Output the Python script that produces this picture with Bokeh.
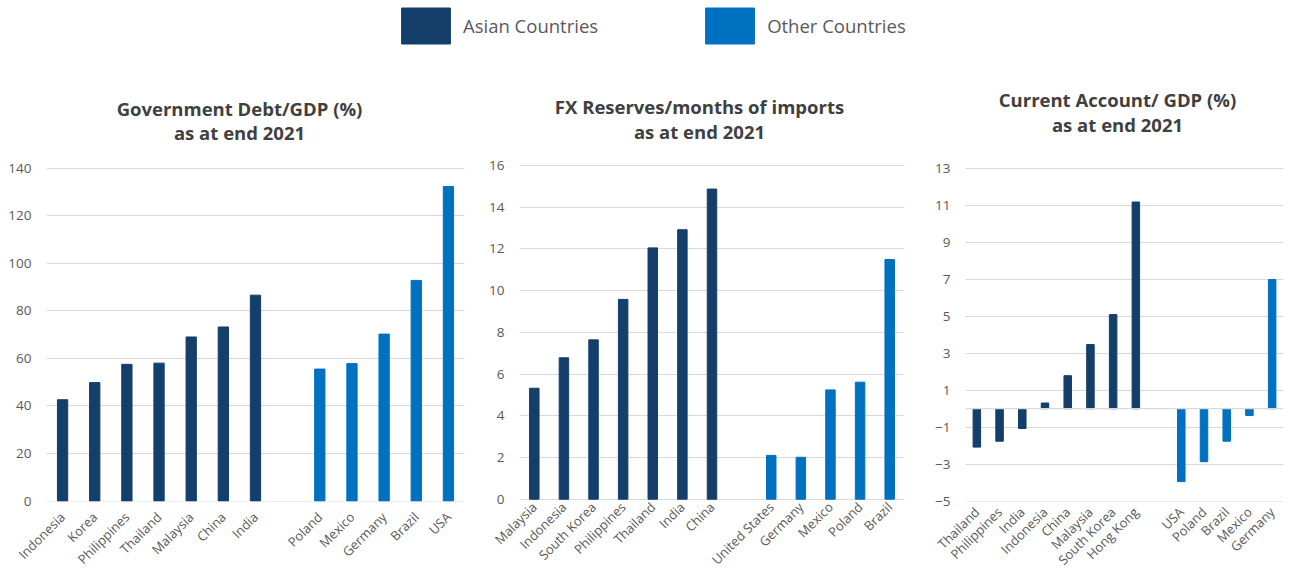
import math
from bokeh.plotting import figure
from bokeh.models import FactorRange, Range1d, FixedTicker, Label, Span
from bokeh.layouts import column, row
from bokeh.embed import file_html
from bokeh.resources import INLINE

# ---------------- data ----------------
debt_asia = ["Indonesia", "Korea", "Philippines", "Thailand", "Malaysia", "China", "India"]
debt_asia_vals = [42.6, 49.8, 57.5, 58.0, 69.0, 73.2, 86.6]
debt_other = ["Poland", "Mexico", "Germany", "Brazil", "USA"]
debt_other_vals = [55.5, 57.8, 70.2, 92.8, 132.3]
debt_ticks = [0, 20, 40, 60, 80, 100, 120, 140]

fx_asia = ["Malaysia", "Indonesia", "South Korea", "Philippines", "Thailand", "India", "China"]
fx_asia_vals = [5.32, 6.78, 7.64, 9.58, 12.05, 12.92, 14.87]
fx_other = ["United States", "Germany", "Mexico", "Poland", "Brazil"]
fx_other_vals = [2.10, 2.01, 5.24, 5.61, 11.49]
fx_ticks = [0, 2, 4, 6, 8, 10, 12, 14, 16]

ca_asia = ["Thailand", "Philippines", "India", "Indonesia", "China", "Malaysia", "South Korea", "Hong Kong"]
ca_asia_vals = [-2.08, -1.76, -1.07, 0.31, 1.79, 3.48, 5.10, 11.2]
ca_other = ["USA", "Poland", "Brazil", "Mexico", "Germany"]
ca_other_vals = [-3.95, -2.87, -1.76, -0.37, 7.0]
ca_ticks = [-5, -3, -1, 1, 3, 5, 7, 9, 11, 13]

titles = [
    "Government Debt/GDP (%)\nas at end 2021",
    "FX Reserves/months of imports\nas at end 2021",
    "Current Account/ GDP (%)\nas at end 2021",
]
legend_labels = ["Asian Countries", "Other Countries"]

# ---------------- style ----------------
DARK = "#143F6B"
LIGHT = "#0070C0"
GRID = "#D9D9D9"
TXT = "#595959"
TTL = "#404040"
FONT = "Open Sans"

LEG_H = 50
FIG_H = 577 - LEG_H
FRAME_TOP = LEG_H
BORDER_BOTTOM = 76                       # shared by all three charts (row aligns frames)
FB = LEG_H + FIG_H - BORDER_BOTTOM       # page y of the frames' bottom edge


def make_chart(title, asia, asia_vals, other, other_vals, ticks, px_lo, px_hi,
               width, bl, br, title_cx, title_cy, bar_w, standoff, zero_line=False):
    px_lo = min(px_lo, FB - 0.5)
    k = (px_lo - px_hi) / (ticks[-1] - ticks[0])
    y0 = ticks[0] - (FB - px_lo) / k
    y1 = ticks[-1] + (px_hi - FRAME_TOP) / k

    factors = asia + [" "] + other
    p = figure(x_range=FactorRange(factors=factors, range_padding=0),
               y_range=Range1d(y0, y1), width=width, height=FIG_H,
               output_backend="svg", toolbar_location=None,
               x_axis_location="below", y_axis_location="left",
               min_border_left=bl, min_border_right=br,
               min_border_top=0, min_border_bottom=BORDER_BOTTOM,
               outline_line_color=None, background_fill_color=None,
               border_fill_color=None)
    ya = p.yaxis[0]
    ya.ticker = FixedTicker(ticks=ticks)
    ya.major_label_text_font_size = "13.5px"
    ya.major_label_standoff = 15
    xa = p.xaxis[0]
    xa.major_label_orientation = math.pi / 4
    xa.major_label_text_font_size = "13px"
    xa.major_label_standoff = standoff
    for ax in (xa, ya):
        ax.axis_line_color = None
        ax.major_tick_line_color = None
        ax.minor_tick_line_color = None
        ax.major_tick_out = 0
        ax.major_tick_in = 0
        ax.minor_tick_out = 0
        ax.minor_tick_in = 0
        ax.major_label_text_color = TXT
        ax.major_label_text_font = FONT
    p.xgrid.visible = False
    p.ygrid.grid_line_color = GRID
    p.ygrid.grid_line_width = 1.2

    if zero_line:
        p.add_layout(Span(location=0, dimension="width", line_color=GRID, line_width=1.2))

    p.vbar(x=asia, top=asia_vals, bottom=0, width=bar_w, color=DARK)
    p.vbar(x=other, top=other_vals, bottom=0, width=bar_w, color=LIGHT)

    p.add_layout(Label(x=title_cx, y=FB - title_cy,
                       x_units="screen", y_units="screen", text=title,
                       text_align="center", text_baseline="middle",
                       text_font=FONT, text_font_style="bold",
                       text_font_size="18.5px", text_color=TTL,
                       text_line_height=0.97))
    return p


# chart 1: page x 0..470, frame 46..464
p1 = make_chart(titles[0], debt_asia, debt_asia_vals, debt_other, debt_other_vals,
                debt_ticks, 500.7, 167.7, 470, 46, 6, 239 - 46, 120, 0.32, 13)
# chart 2: page x 470..912, frame 519..904
p2 = make_chart(titles[1], fx_asia, fx_asia_vals, fx_other, fx_other_vals,
                fx_ticks, 498.7, 165.0, 442, 49, 8, 699 - 519, 118.5, 0.32, 3)
# chart 3: page x 912..1290, frame 965..1283
p3 = make_chart(titles[2], ca_asia, ca_asia_vals, ca_other, ca_other_vals,
                ca_ticks, 501.7, 168.3, 378, 53, 7, 1117 - 965, 111.5, 0.33, 8,
                zero_line=True)

# legend figure (proxy bars lie outside the visible range; only their legend swatches show)
pl = figure(width=1290, height=LEG_H, x_range=Range1d(0, 1), y_range=Range1d(0, 1),
            output_backend="svg", toolbar_location=None,
            x_axis_location=None, y_axis_location=None,
            min_border_left=0, min_border_right=0, min_border_top=0, min_border_bottom=0,
            outline_line_color=None, background_fill_color=None, border_fill_color=None)
pl.grid.visible = False
pl.vbar(x=[5], top=[5], bottom=[4], width=1, color=DARK, legend_label=legend_labels[0])
pl.vbar(x=[5], top=[5], bottom=[4], width=1, color=LIGHT, legend_label=legend_labels[1])
lg = pl.legend[0]
lg.orientation = "horizontal"
lg.location = (395, 2.5)
lg.glyph_width = 61
lg.glyph_height = 45
lg.label_height = 45
lg.label_standoff = 7
lg.spacing = 101
lg.padding = 0
lg.margin = 0
lg.border_line_color = None
lg.background_fill_alpha = 0
lg.label_text_font = FONT
lg.label_text_font_size = "18.5px"
lg.label_text_color = TXT

layout = column(pl, row(p1, p2, p3))
open("out.html", "w").write(file_html(layout, INLINE))
